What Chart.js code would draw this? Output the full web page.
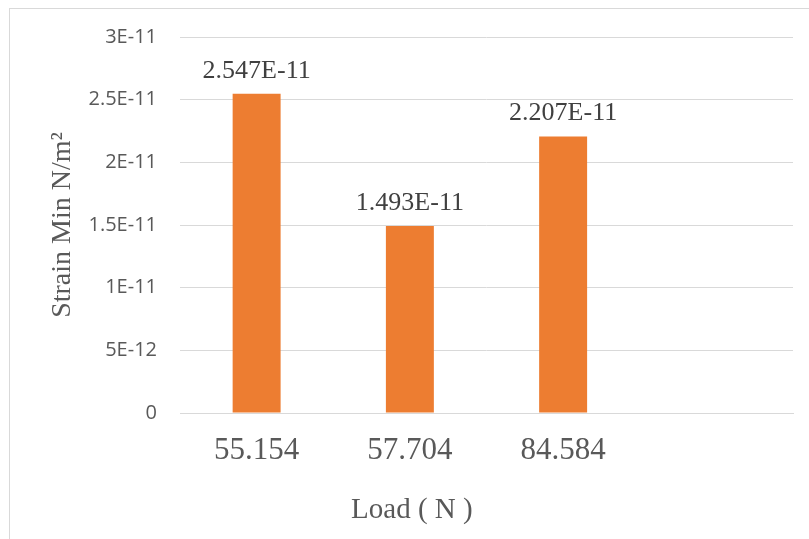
<!DOCTYPE html>
<html>
<head>
<meta charset="utf-8">
<script src="https://cdn.jsdelivr.net/npm/chart.js@4/dist/chart.umd.min.js"></script>
<style>
  html, body { margin: 0; padding: 0; background: #ffffff; }
  #wrap { position: relative; width: 809px; height: 539px; overflow: hidden; background: #ffffff; }
  #frame { position: absolute; left: 9px; top: 8px; width: 900px; height: 600px; border: 1px solid #d9d9d9; box-sizing: border-box; }
  #chart { position: absolute; left: 0; top: 0; }
</style>
</head>
<body>
<div id="wrap">
  <div id="frame"></div>
  <canvas id="chart" width="809" height="539"></canvas>
</div>
<script>
// Load cases (N) and the minimum strain measured for each
const loads = ['55.154', '57.704', '84.584', ''];
const strainMin = [2.547e-11, 1.493e-11, 2.207e-11, null];
const yTickLabels = ['0', '5E-12', '1E-11', '1.5E-11', '2E-11', '2.5E-11', '3E-11'];

const SERIF = '"Liberation Serif", "Times New Roman", serif';
const SANS = '"Open Sans", "Liberation Sans", sans-serif';

// Value labels above each bar, e.g. 2.547E-11
const valueLabels = {
  id: 'valueLabels',
  afterDatasetsDraw(chart) {
    const ctx = chart.ctx;
    const meta = chart.getDatasetMeta(0);
    ctx.save();
    ctx.font = '26px ' + SERIF;
    ctx.fillStyle = '#404040';
    ctx.textAlign = 'center';
    ctx.textBaseline = 'alphabetic';
    meta.data.forEach((bar, i) => {
      const v = strainMin[i];
      if (v == null) return;
      ctx.fillText(v.toExponential(3).replace('e', 'E'), bar.x, bar.y - 16);
    });
    ctx.restore();
  }
};

// Horizontal axis title, centred under the loaded categories
const loadTitle = {
  id: 'loadTitle',
  afterDraw(chart) {
    const x = chart.scales.x;
    const used = loads.filter(l => l !== '').length;
    const cx = (x.getPixelForValue(0) + x.getPixelForValue(used - 1)) / 2;
    const ctx = chart.ctx;
    ctx.save();
    ctx.font = '29px ' + SERIF;
    ctx.fillStyle = '#595959';
    ctx.textAlign = 'center';
    ctx.textBaseline = 'alphabetic';
    ctx.fillText('Load ( N )', cx + 2, 518);
    ctx.restore();
  }
};

new Chart(document.getElementById('chart'), {
  type: 'bar',
  data: {
    labels: loads,
    datasets: [{
      data: strainMin,
      backgroundColor: '#ED7D31',
      borderWidth: 0,
      barPercentage: 0.313,
      categoryPercentage: 1.0
    }]
  },
  options: {
    responsive: false,
    devicePixelRatio: 1,
    animation: false,
    layout: { padding: { left: 0, top: 37, right: 16, bottom: 0 } },
    plugins: {
      legend: { display: false },
      tooltip: { enabled: false }
    },
    scales: {
      x: {
        afterFit(scale) { scale.height = 126; },
        grid: { display: false, drawTicks: false },
        border: { display: true, color: '#d9d9d9', width: 1 },
        ticks: {
          padding: 19,
          color: '#595959',
          font: { family: SERIF, size: 31 },
          maxRotation: 0,
          autoSkip: false
        }
      },
      y: {
        min: 0,
        max: 3e-11,
        afterFit(scale) { scale.width = 180; },
        grid: { color: '#d9d9d9', lineWidth: 1, drawTicks: false },
        border: { display: false },
        ticks: {
          stepSize: 5e-12,
          padding: 23,
          color: '#595959',
          font: { family: SANS, size: 20 },
          callback: (value, index) => yTickLabels[index]
        },
        title: {
          display: true,
          text: 'Strain Min N/m²',
          color: '#595959',
          font: { family: SERIF, size: 28 },
          padding: { top: 46, bottom: 0 }
        }
      }
    }
  },
  plugins: [valueLabels, loadTitle]
});
</script>
</body>
</html>
